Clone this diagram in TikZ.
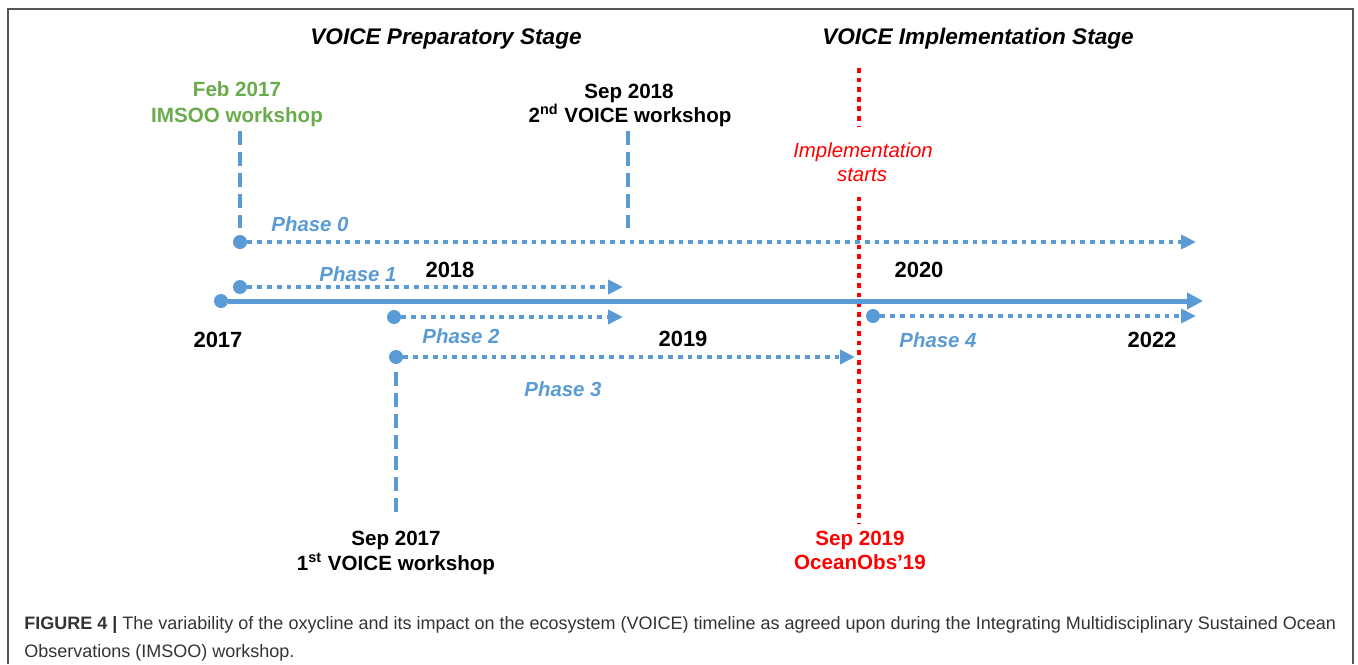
\documentclass[tikz,border=0pt]{standalone}
\usepackage{fontspec}
\setmainfont{Liberation Sans}
\usetikzlibrary{arrows.meta,positioning}

\definecolor{tlblue}{HTML}{5B9BD5}
\definecolor{tlgreen}{HTML}{6AAB4B}
\definecolor{tlred}{HTML}{FF0000}
\definecolor{capgray}{HTML}{333333}
\definecolor{framegray}{HTML}{555555}

\begin{document}
\begin{tikzpicture}[x=0.5pt,y=-0.5pt,
  every node/.style={inner sep=0pt},
  dot/.style={circle,fill=tlblue,minimum size=7pt},
  tlaxis/.style={tlblue,line width=2.5pt,-{Triangle[length=8pt,width=8pt]}},
  phase/.style={tlblue,line width=2.4pt,dash pattern=on 2.4pt off 2.5pt,-{Triangle[length=7.5pt,width=7pt]}},
  mark line/.style={tlblue,line width=2.3pt,dash pattern=on 7pt off 3.5pt},
  red line/.style={tlred,line width=2.2pt,dash pattern=on 2.4pt off 2.4pt},
  year/.style={anchor=base,font=\fontsize{11pt}{13pt}\selectfont\bfseries},
  evt/.style={anchor=base,font=\fontsize{10.3pt}{12pt}\selectfont\bfseries},
  phase lbl/.style={anchor=base,text=tlblue,font=\fontsize{10.2pt}{12pt}\selectfont\bfseries\itshape},
  stage/.style={anchor=base,font=\fontsize{11.3pt}{13pt}\selectfont\bfseries\itshape},
  captext/.style={anchor=base west,text=capgray,font=\fontsize{9pt}{11pt}\selectfont}]

 \useasboundingbox (0,0) rectangle (1358,664);
 \draw[framegray,line width=1pt] (8,664) -- (8,9) -- (1353,9) -- (1353,664);

 % stages
 \node[stage] (prep) at (446,44) {VOICE Preparatory Stage};
 \node[stage] (implstage) at (978,44) {VOICE Implementation Stage};

 % workshops and events
 \node[evt,text=tlgreen] (feb) at (237,96) {Feb 2017};
 \node[evt,text=tlgreen] (febws) at (237,122) {IMSOO workshop};
 \node[evt] (s18) at (629,98) {Sep 2018};
 \node[evt] (s18ws) at (630,122) {2\textsuperscript{nd} VOICE workshop};
 \node[evt] (s17) at (396,545) {Sep 2017};
 \node[evt] (s17ws) at (396,570) {1\textsuperscript{st} VOICE workshop};
 \node[evt,text=tlred] (s19) at (860,545) {Sep 2019};
 \node[evt,text=tlred] (oobs) at (860,569) {OceanObs’19};
 \node[evt,text=tlred,font=\fontsize{10.2pt}{12pt}\selectfont\itshape] (impl1) at (863,157) {Implementation};
 \node[evt,text=tlred,font=\fontsize{10.2pt}{12pt}\selectfont\itshape] (impl2) at (862,181) {starts};

 % years
 \node[year] (y17) at (218,347) {2017};
 \node[year] (y18) at (450,277) {2018};
 \node[year] (y19) at (683,346) {2019};
 \node[year] (y20) at (919,277) {2020};
 \node[year] (y22) at (1152,347) {2022};

 % dots and ends
 \node[dot] (ax) at (221,301) {};
 \node[dot] (p0) at (240,242) {};
 \node[dot] (p1) at (240,287) {};
 \node[dot] (p2) at (394,317) {};
 \node[dot] (p3) at (396,357) {};
 \node[dot] (p4) at (873,316) {};
 \coordinate (axe) at (1203,301);
 \coordinate (p0e) at (1196,242);
 \coordinate (p1e) at (623,287);
 \coordinate (p2e) at (623,317);
 \coordinate (p3e) at (855,357);
 \coordinate (p4e) at (1196,316);
 \coordinate (s18e) at (628,228);
 \coordinate (redtop) at (859,68);

 % vertical markers
 \draw[mark line,shorten <=2pt,shorten >=3.5pt] (febws.south -| p0) -- (p0);
 \draw[mark line,shorten <=2pt] (s18ws.south -| s18e) -- (s18e);
 \draw[mark line,shorten <=4pt,shorten >=8.5pt] (p3) -- (p3 |- s17.north);
 \draw[red line,shorten >=8pt] (redtop) -- (redtop |- impl1.north);
 \draw[red line,shorten <=7.5pt,shorten >=3.5pt] (redtop |- impl2.south) -- (redtop |- s19.north);

 % time axis and phases
 \draw[tlaxis] (ax) -- (axe);
 \draw[phase] (p0) -- (p0e);
 \draw[phase] (p1) -- (p1e);
 \draw[phase] (p2) -- (p2e);
 \draw[phase] (p3) -- (p3e);
 \draw[phase] (p4) -- (p4e);

 \node[phase lbl] (ph0) at (310,231) {Phase 0};
 \node[phase lbl] (ph1) at (358,281) {Phase 1};
 \node[phase lbl] (ph2) at (461,343) {Phase 2};
 \node[phase lbl] (ph3) at (563,396) {Phase 3};
 \node[phase lbl] (ph4) at (938,347) {Phase 4};

 % caption
 \node[captext] (cap1) at (24,629) {\textbf{FIGURE 4 |} The variability of the oxycline and its impact on the ecosystem (VOICE) timeline as agreed upon during the Integrating Multidisciplinary Sustained Ocean};
 \node[captext] (cap2) at (24,657) {Observations (IMSOO) workshop.};

\end{tikzpicture}
\end{document}
